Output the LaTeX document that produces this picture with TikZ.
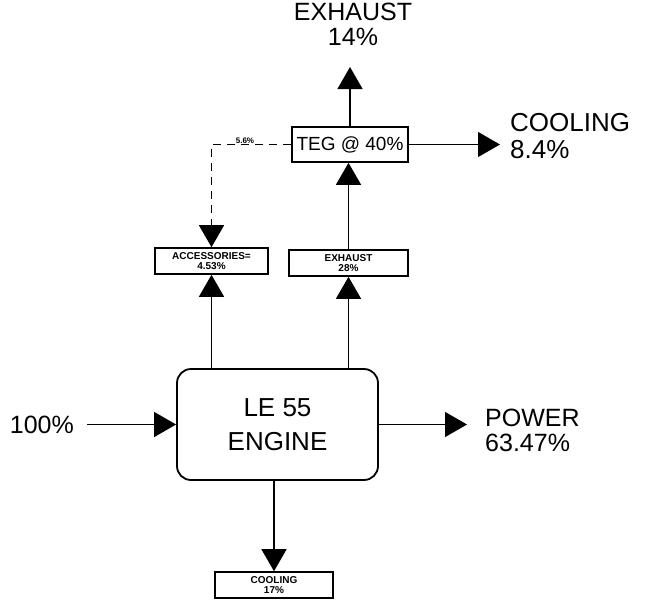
\documentclass[tikz,border=0pt]{standalone}
\usepackage{fontspec}
\setmainfont{Liberation Sans}
\usepackage{tikz}
\usetikzlibrary{positioning,calc,arrows.meta}

\begin{document}
\begin{tikzpicture}[x=1pt,y=-1pt,
    flow/.style={-{Triangle[length=22pt,width=25pt]},line width=1.3pt},
    bigtxt/.style={font=\fontsize{25}{25}\selectfont,align=left,inner sep=0pt},
    smallbox/.style={draw,line width=1.6pt,minimum height=26pt,inner sep=1pt,
        align=center,font=\fontsize{10}{10.5}\selectfont\bfseries}]
  \useasboundingbox (0,0) rectangle (645,603);
  % engine and TEG
  \node[draw,line width=1.8pt,rounded corners=14pt,minimum width=201pt,
        minimum height=111pt,align=center,
        font=\fontsize{26}{34}\selectfont] (engine) at (277.5,424.5) {LE 55\\ENGINE};
  \node[draw,line width=1.6pt,minimum width=116pt,minimum height=35pt,
        inner sep=0pt,font=\fontsize{19}{20}\selectfont] (teg) at (350,144.5) {TEG @ 40\%};
  % small boxes
  \foreach \n/\x/\y/\w/\t in {acc/211.5/261/113/{ACCESSORIES=\\4.53\%},
                             exh/348.5/263/119/{EXHAUST\\28\%},
                             cool/274/585/118/{COOLING\\17\%}}{
    \node[smallbox,minimum width=\w pt] (\n) at (\x,\y) {\t};
  }
  % outer labels
  \node[bigtxt,align=center] (exhout) at (353,24.5) {EXHAUST\\14\%};
  \node[bigtxt,anchor=west,font=\fontsize{26}{27}\selectfont] (coolout) at (510,136) {COOLING\\8.4\%};
  \node[bigtxt,anchor=west] (powout) at (485,430) {POWER\\63.47\%};
  \node[bigtxt,anchor=east] (in100) at (74,424.5) {100\%};
  % connectors
  \draw[flow,shorten <=13pt] (in100) -- (engine);
  \draw[flow,shorten >=18pt] (engine.east) -- (engine.east -| powout.west);
  \draw[flow] (engine.north -| acc.south) -- (acc.south);
  \draw[flow] (engine.north -| exh.south) -- (exh.south);
  \draw[flow] (engine.south -| cool.north) -- (cool.north);
  \draw[flow] (exh.north) -- (exh.north |- teg.south);
  \draw[flow,shorten >=21pt] (teg.north) -- (teg.north |- exhout.south);
  \draw[flow,shorten >=10pt] (teg.east) -- (teg.east -| coolout.west);
  \draw[flow,dash pattern=on 8pt off 6pt] (teg.west)
    -- node[pos=0.58,above=0pt,inner sep=0.5pt,font=\fontsize{8}{8}\selectfont\bfseries]{5.6\%}
       (teg.west -| acc.north) -- (acc.north);
\end{tikzpicture}
\end{document}
